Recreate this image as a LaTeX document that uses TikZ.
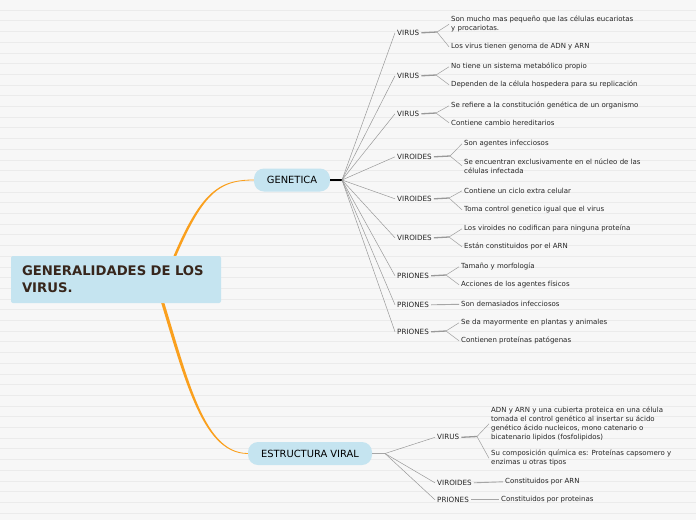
\documentclass[tikz,border=0pt]{standalone}
\usepackage{fontspec}
\setmainfont{DejaVu Sans}
\usepackage{tikz}
\usetikzlibrary{backgrounds}
\usepackage{xcolor}
\definecolor{pillblue}{RGB}{197,228,240}
\definecolor{mmorange}{RGB}{250,160,30}
\definecolor{titlebrown}{RGB}{55,38,28}
\definecolor{paper}{RGB}{247,247,247}
\definecolor{ruleline}{RGB}{235,235,235}

\begin{document}
\begin{tikzpicture}[x=1pt, y=-1pt,
    rootbox/.style={fill=pillblue, rounded corners=2pt, minimum width=210pt, minimum height=47pt, text width=188pt, align=left, inner sep=0pt, font=\fontsize{13.2}{17}\selectfont\bfseries, text=titlebrown},
    mainpill/.style={fill=pillblue, rounded corners=10pt, minimum height=23pt, inner sep=0pt, font=\fontsize{9.9}{11}\selectfont},
    subtag/.style={anchor=west, inner sep=2pt, yshift=-0.8pt, font=\fontsize{7.2}{9}\selectfont, text=black!85},
    leaftxt/.style={anchor=west, inner sep=2pt, yshift=-0.8pt, align=left, font=\fontsize{7}{9}\selectfont, text=black!85},
    spoke/.style={draw=gray!80, line width=0.5pt},
    stem/.style={draw=gray!80, line width=1.3pt},
    fork/.style={draw=gray!75, line width=0.5pt},
    branch/.style={fill=mmorange}
]
\useasboundingbox (0,0) rectangle (696,520);

\node[rootbox] (root) at (116,279.5) {GENERALIDADES DE LOS\\VIRUS.};
\node[mainpill, minimum width=76pt] (gen) at (292,180) {GENETICA};
\node[mainpill, minimum width=124pt] (est) at (310,453.5) {ESTRUCTURA VIRAL};
\coordinate (genhub) at (342,180);
\coordinate (esthub) at (385,453.5);

\node[subtag] (g1) at (395,32) {VIRUS};
\node[subtag] (g2) at (395,75) {VIRUS};
\node[subtag] (g3) at (395,113) {VIRUS};
\node[subtag] (g4) at (395,156) {VIROIDES};
\node[subtag] (g5) at (395,198) {VIROIDES};
\node[subtag] (g6) at (395,237) {VIROIDES};
\node[subtag] (g7) at (395,275) {PRIONES};
\node[subtag] (g8) at (395,304) {PRIONES};
\node[subtag] (g9) at (395,331) {PRIONES};

\coordinate (f1) at (437,32); \coordinate (f2) at (436,75);
\coordinate (f3) at (436,113); \coordinate (f4) at (450,156);
\coordinate (f5) at (449,198); \coordinate (f6) at (449,237);
\coordinate (f7) at (446,275); \coordinate (f9) at (446,331);

\node[leaftxt] (l1a) at (449,23.5) {Son mucho mas pequeño que las células eucariotas\\y procariotas.};
\node[leaftxt] (l1b) at (449,46) {Los virus tienen genoma de ADN y ARN};
\node[leaftxt] (l2a) at (449,66) {No tiene un sistema metabólico propio};
\node[leaftxt] (l2b) at (449,84) {Dependen de la célula hospedera para su replicación};
\node[leaftxt] (l3a) at (449,105) {Se refiere a la constitución genética de un organismo};
\node[leaftxt] (l3b) at (449,122) {Contiene cambio hereditarios};
\node[leaftxt] (l4a) at (462,143) {Son agentes infecciosos};
\node[leaftxt] (l4b) at (462,165) {Se encuentran exclusivamente en el núcleo de las\\células infectada};
\node[leaftxt] (l5a) at (462,190) {Contiene un ciclo extra celular};
\node[leaftxt] (l5b) at (462,209) {Toma control genetico igual que el virus};
\node[leaftxt] (l6a) at (462,228) {Los viroides no codifican para ninguna proteína};
\node[leaftxt] (l6b) at (462,246) {Están constituidos por el ARN};
\node[leaftxt] (l7a) at (459,266) {Tamaño y morfología};
\node[leaftxt] (l7b) at (459,284) {Acciones de los agentes físicos};
\node[leaftxt] (l8a) at (459,303.5) {Son demasiados infecciosos};
\node[leaftxt] (l9a) at (459,322) {Se da mayormente en plantas y animales};
\node[leaftxt] (l9b) at (459,340) {Contienen proteínas patógenas};

\node[subtag] (e1) at (435,436.5) {VIRUS};
\node[subtag] (e2) at (435,482) {VIROIDES};
\node[subtag] (e3) at (435,499) {PRIONES};
\coordinate (fe1) at (477,436.5);
\node[leaftxt] (m1a) at (489,423) {ADN y ARN y una cubierta proteica en una célula\\tomada el control genético al insertar su ácido\\genético ácido nucleicos, mono catenario o\\bicatenario lipidos (fosfolipidos)};
\node[leaftxt] (m1b) at (489,457.5) {Su composición química es: Proteínas capsomero y\\enzimas u otras tipos};
\node[leaftxt] (m2a) at (503,481) {Constituidos por ARN};
\node[leaftxt] (m3a) at (499,499) {Constituidos por proteinas};

\begin{pgfonlayer}{background}
\fill[paper] (0,0) rectangle (696,520);
\foreach \k in {0,...,47} \draw[ruleline, line width=0.6pt] (0,{10+10.7*\k}) -- (696,{10+10.7*\k});
\fill[branch] ([xshift=44pt,yshift=-10.5pt]root.center) .. controls (196,194) and (215,179.6) .. ([yshift=0.4pt]gen.west)
  -- ([yshift=-0.4pt]gen.west) .. controls (215,180.4) and (199,195.5) .. ([xshift=46.5pt,yshift=-10.5pt]root.center) -- cycle;
\fill[branch] ([xshift=38pt]root.center) .. controls (183,372) and (200,453.9) .. ([yshift=-0.4pt]est.west)
  -- ([yshift=0.4pt]est.west) .. controls (201,453.1) and (186,369) .. ([xshift=41pt]root.center) -- cycle;
\end{pgfonlayer}

\draw[black, line width=1.5pt] (gen.east) -- (genhub);
\draw[spoke] (genhub) -- (g1.west); \draw[spoke] (genhub) -- (g2.west); \draw[spoke] (genhub) -- (g3.west);
\draw[spoke] (genhub) -- (g4.west); \draw[spoke] (genhub) -- (g5.west); \draw[spoke] (genhub) -- (g6.west);
\draw[spoke] (genhub) -- (g7.west); \draw[spoke] (genhub) -- (g8.west); \draw[spoke] (genhub) -- (g9.west);

\draw[stem] (g1.east) -- (f1); \draw[fork] (f1) -- (l1a.west); \draw[fork] (f1) -- (l1b.west);
\draw[stem] (g2.east) -- (f2); \draw[fork] (f2) -- (l2a.west); \draw[fork] (f2) -- (l2b.west);
\draw[stem] (g3.east) -- (f3); \draw[fork] (f3) -- (l3a.west); \draw[fork] (f3) -- (l3b.west);
\draw[stem] (g4.east) -- (f4); \draw[fork] (f4) -- (l4a.west); \draw[fork] (f4) -- (l4b.west);
\draw[stem] (g5.east) -- (f5); \draw[fork] (f5) -- (l5a.west); \draw[fork] (f5) -- (l5b.west);
\draw[stem] (g6.east) -- (f6); \draw[fork] (f6) -- (l6a.west); \draw[fork] (f6) -- (l6b.west);
\draw[stem] (g7.east) -- (f7); \draw[fork] (f7) -- (l7a.west); \draw[fork] (f7) -- (l7b.west);
\draw[gray!70, line width=0.9pt] (g8.east) -- (l8a.west);
\draw[stem] (g9.east) -- (f9); \draw[fork] (f9) -- (l9a.west); \draw[fork] (f9) -- (l9b.west);

\draw[stem, gray!70] (est.east) -- (esthub);
\draw[spoke] (esthub) -- (e1.west); \draw[spoke] (esthub) -- (e2.west); \draw[spoke] (esthub) -- (e3.west);
\draw[stem] (e1.east) -- (fe1); \draw[fork] (fe1) -- (m1a.west); \draw[fork] (fe1) -- (m1b.west);
\draw[gray!70, line width=0.9pt] (e2.east) -- (m2a.west);
\draw[gray!70, line width=0.9pt] (e3.east) -- (m3a.west);
\end{tikzpicture}
\end{document}
